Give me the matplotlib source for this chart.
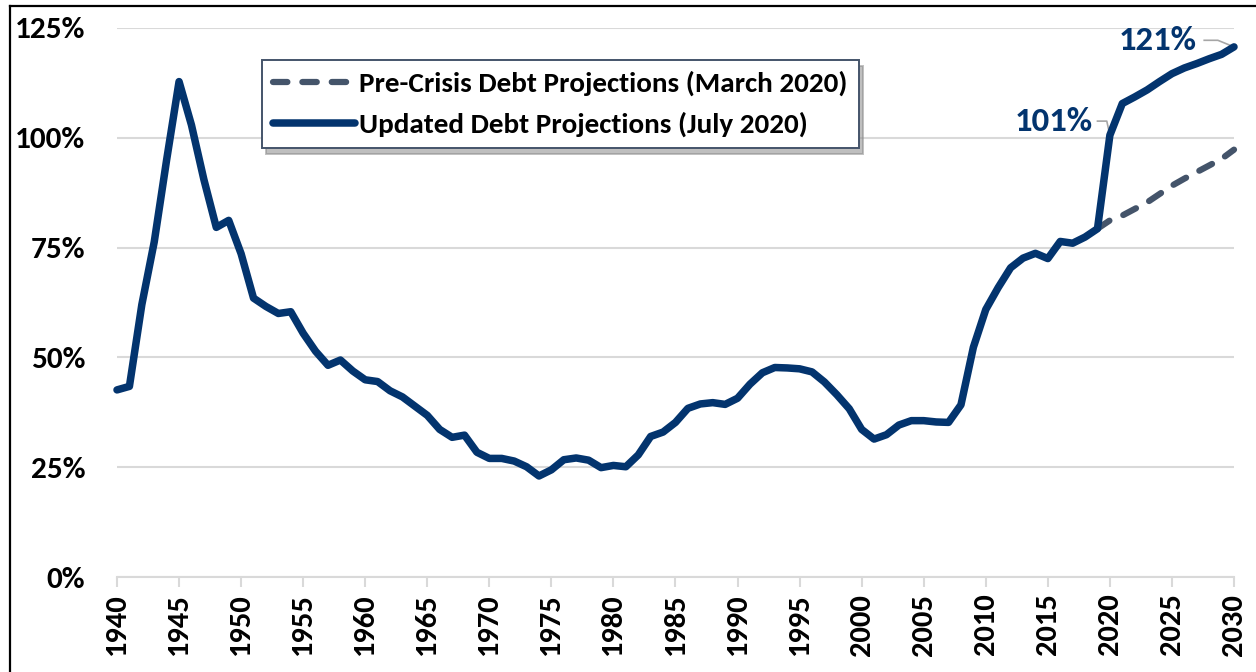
import numpy as np
import matplotlib
matplotlib.use("Agg")
import matplotlib.pyplot as plt
from matplotlib.lines import Line2D

plt.rcParams['font.family'] = ['Carlito', 'DejaVu Sans']
plt.rcParams['font.weight'] = 'bold'

# debt held by the public, percent of GDP
years = np.arange(1940, 2031)
updated = [
    42.6, 43.4, 62.0, 76.3, 95.0, 112.8, 102.9, 90.5, 79.6, 81.2,   # 1940s
    73.6, 63.5, 61.6, 60.0, 60.4, 55.5, 51.4, 48.2, 49.4, 46.9,     # 1950s
    44.9, 44.5, 42.4, 41.0, 38.9, 36.8, 33.6, 31.8, 32.3, 28.4,     # 1960s
    27.0, 27.0, 26.4, 25.1, 23.0, 24.4, 26.7, 27.1, 26.6, 24.9,     # 1970s
    25.4, 25.1, 27.8, 32.0, 33.0, 35.2, 38.4, 39.4, 39.7, 39.3,     # 1980s
    40.7, 43.9, 46.5, 47.7, 47.6, 47.4, 46.7, 44.4, 41.5, 38.3,     # 1990s
    33.6, 31.4, 32.4, 34.6, 35.6, 35.6, 35.3, 35.2, 39.2, 52.3,     # 2000s
    60.9, 65.9, 70.4, 72.6, 73.7, 72.5, 76.4, 76.0, 77.4, 79.3,     # 2010s
    100.6, 107.8, 109.3, 110.9, 112.8, 114.6, 115.9, 116.9, 118.0, 119.0,
    120.7,
]
pre_years = np.arange(2019, 2031)
pre_crisis = [79.3, 81.2, 82.3, 83.8, 85.3, 87.2, 89.1, 90.7, 92.2, 93.7, 95.2, 97.3]

label_2020 = "101%"
label_2030 = "121%"

navy = '#03346E'
slate = '#44546A'
grid_c = '#D9D9D9'
leader_c = '#A6A6A6'

fig = plt.figure(figsize=(12.56, 6.72), dpi=100)
ax = fig.add_axes([117/1256, 1 - 577/672, (1234 - 117)/1256, (577 - 28)/672])

ax.plot(pre_years, pre_crisis, color=slate, lw=4.5, dashes=(2.3, 2.4),
        dash_capstyle='round', zorder=3, clip_on=False,
        label='Pre-Crisis Debt Projections (March 2020)')
ax.plot(years, updated, color=navy, lw=5.4, solid_capstyle='round',
        solid_joinstyle='round', zorder=4, clip_on=False,
        label='Updated Debt Projections (July 2020)')

ax.set_xlim(1940, 2030)
ax.set_ylim(0, 125)
ax.set_yticks(np.arange(0, 126, 25))
ax.set_yticklabels([f"{v}%" for v in range(0, 126, 25)])
ax.set_xticks(np.arange(1940, 2031, 5))
ax.tick_params(axis='y', length=0, pad=23, labelsize=22.5, labelcolor='black')
ax.tick_params(axis='x', length=7, width=1.5, color=grid_c, pad=5,
               labelsize=22, labelrotation=90, labelcolor='black')

ax.grid(axis='y', color=grid_c, lw=1.5, zorder=0)
ax.set_axisbelow(True)
for s in ['left', 'right', 'top']:
    ax.spines[s].set_visible(False)
ax.spines['bottom'].set_color(grid_c)
ax.spines['bottom'].set_linewidth(1.5)

# data labels with leader lines
i20 = list(years).index(2020)
ax.plot([2019.0, 2019.75, 2020], [103.8, 103.8, updated[i20]], color=leader_c,
        lw=1.2, zorder=2)
ax.text(2018.6, 103.8, label_2020, ha='right', va='center', color=navy,
        fontsize=25, fontweight='bold')
ax.plot([2027.6, 2028.7, 2030], [122.2, 122.2, updated[-1]], color=leader_c,
        lw=1.2, zorder=2, clip_on=False)
ax.text(2027.0, 122.2, label_2030, ha='right', va='center', color=navy,
        fontsize=25, fontweight='bold')

leg = ax.legend(loc='upper left', bbox_to_anchor=((262 - 117)/1117, (577 - 60)/549),
                borderaxespad=0, fontsize=21, handlelength=2.8, handletextpad=0.15,
                borderpad=0.38, labelspacing=0.52, frameon=True, fancybox=False,
                shadow={'color': '#8C8C8C', 'alpha': 0.55, 'ox': 3, 'oy': -4},
                edgecolor=slate)
leg.get_frame().set_linewidth(1.4)

# outer frame of the original figure
fig.add_artist(Line2D([10/1256, 1], [1 - 6/672, 1 - 6/672], color='black', lw=1.6))
fig.add_artist(Line2D([10/1256, 10/1256], [0, 1 - 6/672], color='black', lw=1.6))

fig.savefig('out.png', dpi=100)
